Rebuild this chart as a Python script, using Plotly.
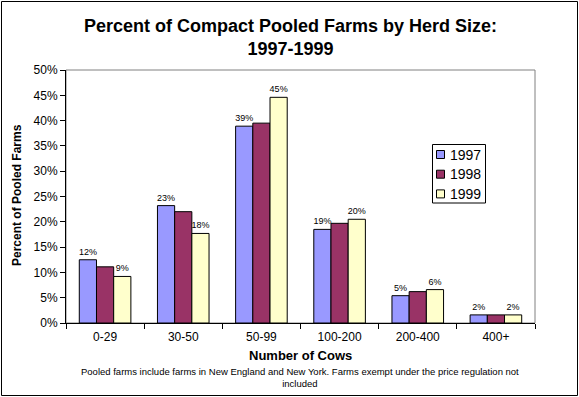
import plotly.graph_objects as go

categories = ["0-29", "30-50", "50-99", "100-200", "200-400", "400+"]
series_names = ["1997", "1998", "1999"]
values_1997 = [12.5, 23.2, 38.9, 18.5, 5.4, 1.6]
values_1998 = [11.1, 22.0, 39.5, 19.7, 6.2, 1.6]
values_1999 = [9.2, 17.7, 44.6, 20.5, 6.6, 1.6]
labels_1997 = ["12%", "23%", "39%", "19%", "5%", "2%"]
labels_1998 = ["", "", "", "", "", ""]
labels_1999 = ["9%", "18%", "45%", "20%", "6%", "2%"]
colors = ["#9999FF", "#993366", "#FFFFCC"]
y_ticks = [0, 5, 10, 15, 20, 25, 30, 35, 40, 45, 50]
y_tick_labels = [f"{v}%" for v in y_ticks]
title_text = "Percent of Compact Pooled Farms by Herd Size:<br>1997-1999"

W, H = 579, 397
L, R, T, B = 66, 44, 70, 74
pw, ph = W - L - R, H - T - B

FONT = "Arial, Liberation Sans, sans-serif"

fig = go.Figure()
for name, vals, labs, col in zip(series_names, [values_1997, values_1998, values_1999],
                                 [labels_1997, labels_1998, labels_1999], colors):
    fig.add_trace(go.Bar(
        x=categories, y=vals, name=name, text=labs, textposition="outside",
        textfont=dict(family=FONT, size=9, color="black"),
        constraintext="none",
        cliponaxis=False, showlegend=False,
        marker=dict(color=col, line=dict(color="black", width=1)),
    ))


def px_x(p):
    return (p - L) / pw


def px_y(p):
    return (H - B - p) / ph


fig.update_layout(
    width=W, height=H,
    margin=dict(l=L, r=R, t=T, b=B),
    paper_bgcolor="white", plot_bgcolor="white",
    barmode="group", bargap=0.34, bargroupgap=0,
    font=dict(family=FONT, color="black"),
    xaxis=dict(showline=True, linecolor="black", linewidth=1,
               ticks="outside", tickson="boundaries", ticklen=5, tickcolor="black",
               tickfont=dict(size=12), showgrid=False, ticklabelstandoff=3),
    yaxis=dict(range=[0, 50], tickvals=y_ticks, ticktext=y_tick_labels,
               showline=True, linecolor="black", linewidth=1,
               ticks="outside", ticklen=5, tickcolor="black",
               tickfont=dict(size=12), showgrid=False, zeroline=False),
    showlegend=False,
)

# title
fig.add_annotation(text=f"<b>{title_text}</b>", xref="paper", yref="paper",
                   x=px_x(290), y=px_y(37), xanchor="center", yanchor="middle",
                   showarrow=False, font=dict(size=18, family=FONT), align="center")

# plot area gray border (top/right)
fig.add_shape(type="rect", xref="paper", yref="paper", x0=0, y0=0, x1=1, y1=1,
              line=dict(color="#808080", width=1), layer="below")
# outer chart border
fig.add_shape(type="rect", xref="paper", yref="paper",
              x0=px_x(1.5), x1=px_x(577.5), y0=px_y(395.5), y1=px_y(1.5),
              line=dict(color="black", width=1))

# legend box
fig.add_shape(type="rect", xref="paper", yref="paper",
              x0=px_x(432.5), x1=px_x(485.5), y0=px_y(203), y1=px_y(144.5),
              line=dict(color="black", width=1), fillcolor="white")
for i, (name, col) in enumerate(zip(series_names, colors)):
    cy = 154.5 + i * 19.7
    fig.add_shape(type="rect", xref="paper", yref="paper",
                  x0=px_x(436.5), x1=px_x(444.5), y0=px_y(cy + 4), y1=px_y(cy - 4),
                  line=dict(color="black", width=1), fillcolor=col)
    fig.add_annotation(text=name, xref="paper", yref="paper",
                       x=px_x(448), y=px_y(cy), xanchor="left", yanchor="middle",
                       showarrow=False, font=dict(size=14, family=FONT))

fig.add_annotation(text="<b>Percent of Pooled Farms</b>", xref="paper", yref="paper",
                   x=px_x(17), y=px_y(195), textangle=-90, showarrow=False,
                   font=dict(size=12), xanchor="center", yanchor="middle")
fig.add_annotation(text="<b>Number of Cows</b>", xref="paper", yref="paper",
                   x=px_x(300), y=px_y(355), showarrow=False,
                   font=dict(size=13), xanchor="center", yanchor="middle")
fig.add_annotation(text="Pooled farms include farms in New England and New York. Farms exempt under the price regulation not<br>included",
                   xref="paper", yref="paper", x=px_x(300), y=px_y(377), showarrow=False,
                   font=dict(size=9.5), xanchor="center", yanchor="middle", align="center")

fig.write_html("out.html", config={"displayModeBar": False},
               post_script="document.body.style.margin='0';document.body.style.overflow='hidden';")
